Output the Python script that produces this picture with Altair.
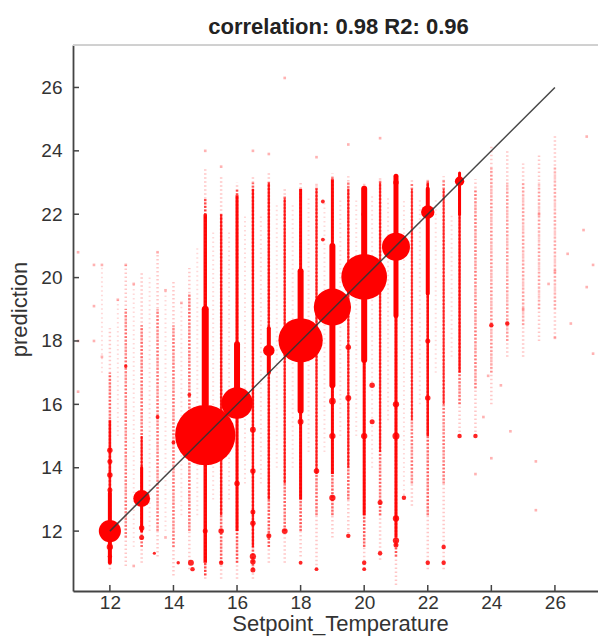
import altair as alt
import pandas as pd

# ---------------- data ----------------
# vertical streaks (one per setpoint value)
cols_x   = [12, 12.5, 13, 13.5, 14, 14.5, 15, 15.5, 16, 16.5, 17, 17.5, 18, 18.5, 19, 19.5,
            20, 20.5, 21, 21.5, 22, 22.5, 23, 23.5, 24, 24.5, 25, 25.5, 26]
faint_lo = [10.8, 10.9, 11.0, 11.2, 10.6, 10.8, 10.5, 10.5, 10.5, 10.5, 11.0, 11.0, 11.2, 10.8, 11.8, 11.8,
            10.8, 11.1, 10.3, 12.8, 10.8, 10.8, 15.0, 15.0, 16.0, 17.5, 17.5, 18.0, 18.1]
faint_hi = [18.4, 20.4, 20.2, 20.8, 19.9, 20.3, 23.5, 23.2, 23.0, 23.2, 23.3, 22.8, 23.0, 23.0, 23.3, 23.2,
            23.0, 23.2, 23.1, 23.1, 23.1, 23.2, 23.3, 23.1, 24.2, 24.0, 23.6, 23.9, 24.5]
mid_lo   = [11.0, 11.8, 11.5, 12.0, 11.5, 12.0, 10.6, 11.0, 11.0, 10.8, 11.5, 12.0, 12.0, 12.5, 12.5, 13.0,
            11.5, 12.5, 11.2, 13.5, 12.5, 13.5, 16.0, 16.5, 17.0, 18.0, 18.5, 19.0, 19.0]
mid_hi   = [17.0, 19.0, 18.5, 19.0, 18.5, 19.5, 22.5, 22.0, 22.8, 23.0, 23.0, 22.6, 22.8, 22.9, 23.2, 23.0,
            22.9, 23.1, 23.1, 23.0, 23.1, 23.1, 23.2, 22.8, 23.5, 23.0, 23.0, 23.0, 23.5]
mid_op   = [0.55, 0.45, 0.5, 0.45, 0.45, 0.5, 0.7, 0.6, 0.65, 0.6, 0.6, 0.55, 0.6, 0.55, 0.6, 0.55,
            0.6, 0.55, 0.6, 0.45, 0.55, 0.45, 0.5, 0.4, 0.3, 0.28, 0.25, 0.22, 0.22]

# dense cores of the streaks
core_x  = [12, 13, 15, 15.5, 16, 16.5, 17, 17.5, 18, 18.5, 19, 19.5, 20, 20.5, 21, 21.5, 22, 22.5, 23]
core_lo = [11.2, 12.0, 11.0, 12.5, 12.0, 11.5, 13.0, 13.5, 13.0, 13.8, 13.8, 14.0, 12.5, 14.5, 11.8, 15.5, 15.0, 16.0, 17.0]
core_hi = [15.5, 15.0, 22.0, 22.0, 22.6, 22.8, 23.0, 22.5, 22.8, 22.8, 23.1, 22.8, 22.8, 23.0, 23.0, 22.8, 23.0, 22.8, 23.0]
core_w  = [2.5, 2, 3.5, 2.2, 3, 2.2, 2.2, 2, 3, 2, 3, 2, 3, 2, 3, 1.8, 2.5, 1.8, 2.2]
core_op = [0.9, 0.85, 0.95, 0.8, 0.95, 0.85, 0.85, 0.8, 0.95, 0.8, 0.95, 0.8, 0.95, 0.8, 0.95, 0.75, 0.9, 0.75, 0.9]

# thick parts of the streaks next to the big bubbles
sp_x  = [12, 13, 15, 16, 17, 18, 18, 19, 19, 20, 20, 21, 21, 22, 23]
sp_lo = [11.0, 12.0, 16.0, 16.5, 17.0, 18.0, 15.8, 19.0, 16.6, 20.0, 17.4, 21.0, 18.8, 19.5, 22.0]
sp_hi = [13.2, 14.0, 19.0, 17.9, 18.4, 20.2, 18.0, 21.0, 19.0, 22.8, 20.0, 23.2, 21.0, 22.8, 23.3]
sp_w  = [4, 3, 7, 6, 4, 6, 6, 6, 6, 6, 6, 5, 5, 4, 3]

# faint in-between streaks (quarter values)
q_x  = [11.75, 12.25, 12.75, 13.25, 13.75, 14.25, 14.75, 15.25, 15.75, 16.25, 16.75, 17.25, 17.75,
        18.25, 18.75, 19.25, 19.75, 20.25, 20.75, 21.25, 21.75, 22.25, 22.75]
q_lo = [17.0, 15.0, 11.5, 12.0, 12.0, 12.5, 12.5, 13.0, 13.0, 13.5, 13.5, 14.0, 14.0, 14.5, 14.5,
        15.0, 15.0, 14.0, 15.5, 13.0, 16.0, 17.0, 17.5]
q_hi = [20.4, 19.3, 19.8, 20.0, 19.6, 19.2, 21.0, 21.5, 21.5, 22.0, 22.0, 22.3, 22.3, 22.5, 22.4,
        22.5, 22.5, 22.6, 22.6, 22.5, 22.5, 22.5, 22.0]

# big count bubbles (x, y, area)
bub_x = [12, 13, 15, 16, 17, 18, 19, 20, 21, 22, 23]
bub_y = [12, 13.03, 15.03, 16.04, 17.7, 18.02, 19.07, 20.02, 20.97, 22.07, 23.04]
bub_s = [490, 283, 3630, 990, 130, 1963, 1385, 2090, 785, 180, 88]

# beads on the streaks
bead_x = [12, 12, 12, 12, 12, 12, 13, 13, 14.55, 14.6, 15, 15.5, 15.5, 16, 16.5, 16.5, 16.5, 16.5,
          16.5, 16.5, 16.5, 17, 17.5, 18, 18, 18.5, 18.5, 19, 19, 19, 19.5, 19.5, 19.5, 20, 20, 20,
          20, 20.5, 20.5, 20.25, 20.25, 21, 21, 21, 21, 21, 21, 21.25, 22, 22, 22, 22.5, 22.5, 23,
          23.5, 24, 24.5, 18.7, 18.7, 13.4, 14.15, 13.5, 14, 14.5, 12.5]
bead_y = [14.55, 14.2, 13.77, 13.3, 11.5, 11.2, 12.1, 11.8, 11.0, 10.8, 12.0, 12.0, 11.0, 13.5, 15.2,
          13.9, 12.6, 12.25, 11.2, 11.03, 10.77, 11.85, 12.0, 15.45, 11.0, 13.9, 10.8, 16.1, 15.0,
          13.05, 16.2, 11.85, 17.8, 15.0, 11.0, 10.8, 22.0, 12.9, 11.3, 16.6, 15.45, 16.0, 15.0,
          12.4, 11.7, 11.56, 23.0, 13.05, 16.2, 11.0, 18.0, 11.0, 11.5, 15.0, 15.0, 18.5, 18.55,
          22.4, 21.2, 11.3, 11.0, 15.6, 14.8, 16.3, 17.2]
bead_s = [30, 25, 30, 25, 40, 20, 30, 25, 35, 20, 25, 30, 20, 30, 35, 30, 25, 30, 40, 30, 25, 25,
          35, 35, 15, 30, 15, 45, 40, 40, 35, 20, 30, 40, 20, 15, 30, 25, 20, 30, 25, 40, 50, 40,
          40, 25, 30, 20, 30, 20, 25, 20, 20, 20, 20, 20, 20, 15, 15, 10, 12, 15, 15, 15, 12]

# isolated faint dots
dot_x = [11.0, 11.0, 11.0, 11.5, 11.5, 11.5, 11.75, 11.75, 12.25, 12.5, 12.75, 13.5, 13.75, 14.25,
         17.5, 15.0, 15.5, 16.5, 18.5, 19.5, 20.5, 17.0, 23.5, 24.6, 25.4, 25.4, 23.75, 24.3, 26.4,
         26.5, 27.0, 27.2, 27.0, 25.8, 26.9, 13.75, 12.75, 26.0, 26.0, 25.0, 24.0, 23.9, 25.5, 27.2]
dot_y = [20.8, 18.0, 16.4, 20.4, 19.1, 18.0, 20.4, 17.5, 19.3, 20.4, 19.8, 20.8, 19.6, 19.2,
         26.3, 24.0, 23.5, 24.0, 23.8, 24.2, 24.4, 23.9, 13.8, 15.15, 12.66, 14.2, 15.6, 16.6, 20.75,
         18.55, 19.7, 20.4, 24.45, 19.8, 21.5, 11.8, 10.9, 18.1, 20.2, 19.0, 14.3, 16.9, 22.0, 17.6]

# diagonal reference line
diag_x = [12, 26]
diag_y = [12, 26]

tick_vals = [12, 14, 16, 18, 20, 22, 24, 26]

TITLE = "correlation: 0.98 R2: 0.96"
XT = "Setpoint_Temperature"
YT = "prediction"

# ---------------- chart ----------------
W, H = 525, 546
RED = "#ff0000"
FONT = "Liberation Sans"

xs = alt.Scale(domain=[10.84, 27.355], nice=False, zero=False)
ys = alt.Scale(domain=[10.11, 27.34], nice=False, zero=False)

x_axis = alt.Axis(values=tick_vals, ticks=False, tickSize=0, grid=False, domainColor="#444",
                  domainWidth=1.8, labelFontSize=19, labelColor="#333", labelFont=FONT,
                  labelPadding=2, labelFlush=False, labelOverlap=False, title=XT,
                  titleFontSize=22, titleFontWeight="normal", titleColor="#333", titleFont=FONT,
                  titleX=267, titleY=39, titleBaseline="alphabetic", titleAlign="center")
y_axis = alt.Axis(values=tick_vals, ticks=False, tickSize=0, grid=False, domainColor="#444",
                  domainWidth=1.8, labelFontSize=19, labelColor="#333", labelFont=FONT,
                  labelPadding=11, labelFlush=False, labelOverlap=False, title=YT,
                  titleFontSize=22, titleFontWeight="normal", titleColor="#333", titleFont=FONT,
                  titleX=-54, titleY=264, titleAngle=270, titleBaseline="middle", titleAlign="center")


def X(f="x"):
    return alt.X(f"{f}:Q", scale=xs, axis=x_axis)


def Y(f="y"):
    return alt.Y(f"{f}:Q", scale=ys, axis=y_axis)


faint = pd.DataFrame({"x": cols_x, "lo": faint_lo, "hi": faint_hi})
mid = pd.DataFrame({"x": cols_x, "lo": mid_lo, "hi": mid_hi, "o": mid_op})
core = pd.DataFrame({"x": core_x, "lo": core_lo, "hi": core_hi, "w": core_w, "o": core_op})
spin = pd.DataFrame({"x": sp_x, "lo": sp_lo, "hi": sp_hi, "w": sp_w})
quart = pd.DataFrame({"x": q_x, "lo": q_lo, "hi": q_hi})
bub = pd.DataFrame({"x": bub_x, "y": bub_y, "s": bub_s})
beads = pd.DataFrame({"x": bead_x, "y": bead_y, "s": bead_s})
dots = pd.DataFrame({"x": dot_x, "y": dot_y})
diag = pd.DataFrame({"x": diag_x, "y": diag_y})
ticks = pd.DataFrame({"t": tick_vals})
title_df = pd.DataFrame({"label": [TITLE]})

l_faint = alt.Chart(faint).mark_rule(color=RED, opacity=0.22, strokeWidth=2.5,
                                     strokeDash=[1.5, 2.5]).encode(x=X(), y=Y("lo"), y2="hi")
l_quart = alt.Chart(quart).mark_rule(color=RED, opacity=0.15, strokeWidth=2,
                                     strokeDash=[1.5, 3]).encode(x=X(), y=Y("lo"), y2="hi")
l_mid = alt.Chart(mid).mark_rule(color=RED, strokeWidth=2.5, strokeDash=[2, 1.5]).encode(
    x=X(), y=Y("lo"), y2="hi", opacity=alt.Opacity("o:Q", scale=None))
l_dots = alt.Chart(dots).mark_square(color=RED, opacity=0.3, size=7).encode(x=X(), y=Y())
l_core = alt.Chart(core).mark_rule(color=RED).encode(
    x=X(), y=Y("lo"), y2="hi", strokeWidth=alt.StrokeWidth("w:Q", scale=None),
    opacity=alt.Opacity("o:Q", scale=None))
l_spin = alt.Chart(spin).mark_rule(color=RED, opacity=1, strokeCap="round").encode(
    x=X(), y=Y("lo"), y2="hi", strokeWidth=alt.StrokeWidth("w:Q", scale=None))
l_beads = alt.Chart(beads).mark_circle(color=RED, opacity=0.85).encode(
    x=X(), y=Y(), size=alt.Size("s:Q", scale=None))
l_bub = alt.Chart(bub).mark_circle(color=RED, opacity=1).encode(
    x=X(), y=Y(), size=alt.Size("s:Q", scale=None))
l_diag = alt.Chart(diag).mark_line(color="#333", strokeWidth=1.5, opacity=0.9).encode(x=X(), y=Y())
l_top = alt.Chart(ticks).mark_rule(color="#d0d0d0", strokeWidth=1).encode(
    x=alt.value(0), x2=alt.value(W), y=alt.value(0))
l_xt = alt.Chart(ticks).mark_rule(color="#444", strokeWidth=1.5).encode(
    x=alt.X("t:Q", scale=xs, axis=x_axis), y=alt.value(H), y2=alt.value(H - 6))
l_yt = alt.Chart(ticks).mark_rule(color="#444", strokeWidth=1.5).encode(
    y=alt.Y("t:Q", scale=ys, axis=y_axis), x=alt.value(0), x2=alt.value(6))
l_title = alt.Chart(title_df).mark_text(fontSize=22, font=FONT, fontWeight="bold", color="#222",
                                        align="center", baseline="alphabetic").encode(
    x=alt.value(265.5), y=alt.value(-11), text="label:N")

chart = alt.layer(l_faint, l_quart, l_mid, l_dots, l_core, l_spin, l_beads, l_bub, l_diag,
                  l_top, l_xt, l_yt, l_title).properties(
    width=W, height=H,
    autosize=alt.AutoSizeParams(type="none"),
    padding={"left": 65, "top": 37, "right": 0, "bottom": 45},
    background="white",
).configure_view(stroke=None)

chart.save("out.html", embed_options={"renderer": "svg", "actions": False})
